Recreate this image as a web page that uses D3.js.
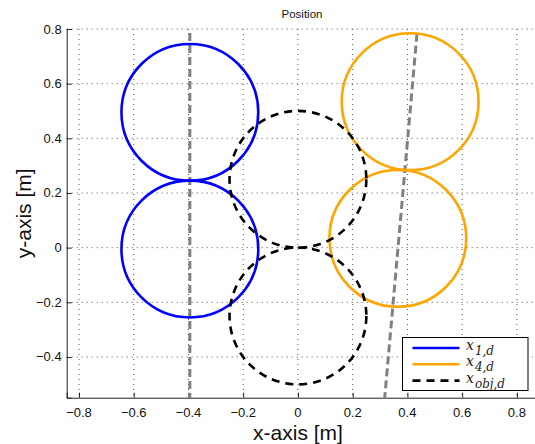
<!DOCTYPE html>
<html>
<head>
<meta charset="utf-8">
<script src="https://cdn.jsdelivr.net/npm/d3@7"></script>
<style>
  body { margin: 0; background: #fff; }
  svg { display: block; font-family: "Liberation Sans", Arial, sans-serif; }
</style>
</head>
<body>
<svg id="canvas" width="535" height="444"></svg>
<script>
// circle centres, radius shared
let radius = 0.25
let blueCentres = [[-0.395, 0.495], [-0.395, -0.005]]
let orangeCentres = [[0.41, 0.534], [0.365, 0.034]]
let objCentres = [[0, 0.25], [0, -0.25]]

// grey dashed guide lines [x1, y1, x2, y2]
let guideLines = [[-0.395, 0.785, -0.395, -0.55], [0.435, 0.783, 0.317, -0.55]]

let xTicks = [-0.8, -0.6, -0.4, -0.2, 0, 0.2, 0.4, 0.6, 0.8]
let yTicks = [-0.4, -0.2, 0, 0.2, 0.4, 0.6, 0.8]

let legendNames = [['x', '1,d'], ['x', '4,d'], ['x', 'obj,d']]
let legendColors = ['#0000ff', '#ffa500', '#000000']

let canvas = d3.select('#canvas')

let plotLeft = 66.7, plotTop = 29, plotRight = 540, plotBottom = 397.7

let xScale = d3.scaleLinear().domain([-0.845, 0.8845]).range([plotLeft, plotRight])
let yScale = d3.scaleLinear().domain([-0.549, 0.8]).range([plotBottom, plotTop])

let fmt = (v) => v === 0 ? '0' : d3.format('.1f')(v).replace('-', '\u2212')

// dotted grid
canvas.append('g').selectAll('line').data(xTicks).enter().append('line')
    .attr('x1', d => xScale(d)).attr('x2', d => xScale(d))
    .attr('y1', plotTop).attr('y2', plotBottom)
    .attr('stroke', '#555').attr('stroke-width', 1).attr('stroke-dasharray', '1,4')
canvas.append('g').selectAll('line').data(yTicks).enter().append('line')
    .attr('x1', plotLeft).attr('x2', plotRight)
    .attr('y1', d => yScale(d)).attr('y2', d => yScale(d))
    .attr('stroke', '#555').attr('stroke-width', 1).attr('stroke-dasharray', '1,4')

// axes, ticks pointing inward
let xAxis = canvas.append('g')
    .attr('transform', 'translate(0,' + plotBottom + ')')
    .call(d3.axisTop(xScale).tickValues(xTicks).tickSize(5).tickFormat(''))
xAxis.select('.domain').attr('stroke', '#222')
xAxis.selectAll('.tick line').attr('stroke', '#222')

let yAxis = canvas.append('g')
    .attr('transform', 'translate(' + plotLeft + ',0)')
    .call(d3.axisRight(yScale).tickValues(yTicks).tickSize(5).tickFormat(''))
yAxis.select('.domain').attr('stroke', '#222')
yAxis.selectAll('.tick line').attr('stroke', '#222')

canvas.append('g').selectAll('text').data(xTicks).enter().append('text')
    .attr('x', d => xScale(d)).attr('y', plotBottom + 19)
    .attr('text-anchor', 'middle').attr('font-size', 13).attr('fill', '#111')
    .text(fmt)
canvas.append('g').selectAll('text').data(yTicks).enter().append('text')
    .attr('x', plotLeft - 5).attr('y', d => yScale(d) + 4.5)
    .attr('text-anchor', 'end').attr('font-size', 13).attr('fill', '#111')
    .text(fmt)

// plot marks, clipped to the axes area
canvas.append('clipPath').attr('id', 'clip').append('rect')
    .attr('x', plotLeft).attr('y', plotTop)
    .attr('width', plotRight - plotLeft).attr('height', plotBottom - plotTop)
let plot = canvas.append('g').attr('clip-path', 'url(#clip)')

plot.selectAll('.guide').data(guideLines).enter().append('line')
    .attr('class', 'guide')
    .attr('x1', d => xScale(d[0])).attr('y1', d => yScale(d[1]))
    .attr('x2', d => xScale(d[2])).attr('y2', d => yScale(d[3]))
    .attr('stroke', '#808080').attr('stroke-width', 3).attr('stroke-dasharray', '8,4')

let rPx = xScale(radius) - xScale(0)

let drawCircles = (centres, color, dash) => {
    plot.append('g').selectAll('circle').data(centres).enter().append('circle')
        .attr('cx', d => xScale(d[0])).attr('cy', d => yScale(d[1]))
        .attr('r', rPx)
        .attr('fill', 'none').attr('stroke', color).attr('stroke-width', 2.6)
        .attr('stroke-dasharray', dash)
}
drawCircles(blueCentres, legendColors[0], null)
drawCircles(orangeCentres, legendColors[1], null)
drawCircles(objCentres, legendColors[2], '8,6')

// title and axis labels
canvas.append('text').attr('x', 302).attr('y', 18).attr('text-anchor', 'middle')
    .attr('font-size', 11.5).attr('fill', '#111').text('Position')
canvas.append('text').attr('x', 298).attr('y', 440).attr('text-anchor', 'middle')
    .attr('font-size', 21).attr('fill', '#111').text('x-axis [m]')
canvas.append('text').attr('transform', 'translate(31,' + ((plotTop + plotBottom) / 2) + ') rotate(-90)')
    .attr('text-anchor', 'middle').attr('font-size', 21).attr('fill', '#111').text('y-axis [m]')

// legend
let legend = canvas.append('g').attr('transform', 'translate(402.5,337.5)')
legend.append('rect').attr('width', 125.5).attr('height', 53)
    .attr('fill', '#fff').attr('stroke', '#000').attr('stroke-width', 1)
let rows = legend.selectAll('.row').data(legendNames).enter().append('g')
    .attr('class', 'row')
    .attr('transform', (d, i) => 'translate(0,' + (10.5 + i * 16.3) + ')')
rows.append('line').attr('x1', 10).attr('x2', 57).attr('y1', 0).attr('y2', 0)
    .attr('stroke', (d, i) => legendColors[i]).attr('stroke-width', 2.6)
    .attr('stroke-dasharray', (d, i) => i === 2 ? '8,6' : null)
let label = rows.append('text').attr('x', 63.5).attr('y', 2)
    .attr('font-family', '"DejaVu Serif", serif').attr('font-style', 'italic')
    .attr('font-size', 14).attr('fill', '#222')
label.append('tspan').text(d => d[0])
label.append('tspan').attr('dx', 1).attr('dy', 5).attr('font-size', 12).text(d => d[1])
</script>
</body>
</html>
